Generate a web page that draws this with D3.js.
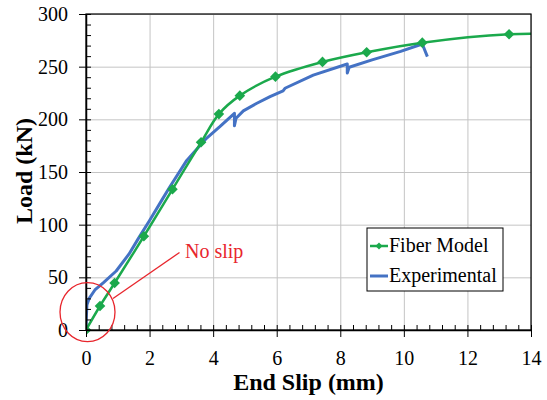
<!DOCTYPE html>
<html>
<head>
<meta charset="utf-8">
<script src="https://cdn.jsdelivr.net/npm/d3@7"></script>
<style>
  body { margin: 0; background: #fff; }
</style>
</head>
<body>
<div id="chart"></div>
<script>
// Fiber model (green, with markers)
const fiberSlip = [0, 0.44, 0.9, 1.82, 2.72, 3.62, 4.18, 4.84, 5.96, 7.44, 8.83, 10.58, 13.31, 14.6];
const fiberLoad = [0, 22.8, 44.6, 89, 133.6, 178.2, 205, 222.5, 240.5, 254.5, 263.7, 272.8, 280.8, 281];

// Experimental (blue)
const expSlip = [0, 0.01, 0.03, 0.1, 0.28, 0.55, 0.95, 1.35, 1.65, 2.0, 2.4, 2.64, 3.17, 3.79, 4.21, 4.67, 4.67, 4.72, 4.95, 5.36, 5.79, 6.2, 6.26, 7.15, 8.22, 8.22, 8.28, 9.0, 9.9, 10.58, 10.74];
const expLoad = [0, 12, 24, 30, 38, 45, 56, 72, 87, 104, 124, 136, 161, 182, 193, 205.7, 194, 201, 208, 215, 221.5, 227, 229.5, 242, 252.5, 244, 249.4, 256.5, 264.5, 271.5, 259.5];

const xTicks = [0, 2, 4, 6, 8, 10, 12, 14];
const yTicks = [0, 50, 100, 150, 200, 250, 300];
const seriesNames = ["Fiber Model", "Experimental"];

const W = 547, H = 400;
const margin = { top: 14, right: 16, bottom: 70, left: 86 };
const width = W - margin.left - margin.right;
const height = H - margin.top - margin.bottom;
const green = "#1ba94c", blue = "#4472c4", red = "#e8262d";
const serif = "Liberation Serif";

const svg = d3.select("#chart").append("svg")
  .attr("width", W).attr("height", H);
const g = svg.append("g")
  .attr("transform", `translate(${margin.left},${margin.top})`);

const x = d3.scaleLinear().domain([0, 14]).range([0, width]);
const y = d3.scaleLinear().domain([0, 300]).range([height, 0]);

svg.append("defs").append("clipPath").attr("id", "plotClip")
  .append("rect").attr("x", 0).attr("y", -8).attr("width", width).attr("height", height + 16);

// gridlines
g.append("g").attr("transform", `translate(0,${height})`)
  .call(d3.axisBottom(x).tickValues(xTicks).tickSize(-height).tickFormat(""))
  .call(a => a.select(".domain").remove())
  .call(a => a.selectAll("line").attr("stroke", "#c4c4c4"));
g.append("g")
  .call(d3.axisLeft(y).tickValues(yTicks).tickSize(-width).tickFormat(""))
  .call(a => a.select(".domain").remove())
  .call(a => a.selectAll("line").attr("stroke", "#c4c4c4"));

// series
const fiberPts = fiberSlip.map((s, i) => [s, fiberLoad[i]]);
const expPts = expSlip.map((s, i) => [s, expLoad[i]]);
const plot = g.append("g").attr("clip-path", "url(#plotClip)");

plot.append("path").datum(expPts)
  .attr("fill", "none").attr("stroke", blue).attr("stroke-width", 3)
  .attr("stroke-linejoin", "round")
  .attr("d", d3.line().x(d => x(d[0])).y(d => y(d[1])));

plot.append("path").datum(fiberPts)
  .attr("fill", "none").attr("stroke", green).attr("stroke-width", 2.5)
  .attr("d", d3.line().curve(d3.curveCatmullRom.alpha(0.5)).x(d => x(d[0])).y(d => y(d[1])));

const diamond = d3.symbol().type(d3.symbolDiamond2).size(72);
plot.selectAll(".mk").data(fiberPts).enter().append("path")
  .attr("transform", d => `translate(${x(d[0])},${y(d[1])})`)
  .attr("d", diamond).attr("fill", green);

// frame
g.append("rect").attr("width", width).attr("height", height)
  .attr("fill", "none").attr("stroke", "#000").attr("stroke-width", 1.2);

// axes: minor inward ticks, major crossing ticks
const xMinor = d3.range(0, 14.01, 0.4);
const yMinor = d3.range(0, 300.1, 10);
g.append("g").attr("transform", `translate(0,${height})`)
  .call(d3.axisBottom(x).tickValues(xMinor).tickSize(-5).tickFormat(""))
  .call(a => a.select(".domain").remove());
g.append("g")
  .call(d3.axisLeft(y).tickValues(yMinor).tickSize(-5).tickFormat(""))
  .call(a => a.select(".domain").remove());

const xAxis = g.append("g").attr("transform", `translate(0,${height})`)
  .call(d3.axisBottom(x).tickValues(xTicks).tickSize(7).tickSizeOuter(0).tickPadding(14))
  .call(a => a.select(".domain").attr("stroke-width", 1.5));
xAxis.selectAll("text").attr("fill", "#000")
  .style("font-family", serif).style("font-size", "20px");

const yAxis = g.append("g")
  .call(d3.axisLeft(y).tickValues(yTicks).tickSize(7).tickSizeOuter(0).tickPadding(11))
  .call(a => a.select(".domain").attr("stroke-width", 1.5));
yAxis.selectAll("text").attr("fill", "#000")
  .style("font-family", serif).style("font-size", "20px");

// axis titles
svg.append("text").attr("x", margin.left + width / 2).attr("y", 390)
  .attr("text-anchor", "middle").style("font-family", serif).style("font-size", "24px")
  .style("font-weight", "bold")
  .text("End Slip (mm)");
svg.append("text").attr("transform", "translate(32,171) rotate(-90)")
  .attr("text-anchor", "middle").style("font-family", serif).style("font-size", "24px")
  .style("font-weight", "bold")
  .text("Load (kN)");

// legend
const lg = svg.append("g").attr("transform", "translate(367,228)");
lg.append("rect").attr("width", 136).attr("height", 63)
  .attr("fill", "#fff").attr("stroke", "#000").attr("stroke-width", 1);
const rows = lg.selectAll(".row").data(seriesNames).enter().append("g")
  .attr("transform", (d, i) => `translate(0,${18 + i * 30})`);
rows.append("line").attr("x1", 3).attr("x2", 21)
  .attr("stroke", (d, i) => i === 0 ? green : blue)
  .attr("stroke-width", (d, i) => i === 0 ? 2.5 : 3);
rows.filter((d, i) => i === 0).append("path")
  .attr("transform", "translate(12,0)")
  .attr("d", d3.symbol().type(d3.symbolDiamond2).size(32)).attr("fill", green);
rows.append("text").attr("x", 22).attr("y", 6)
  .style("font-family", serif).style("font-size", "20px").attr("fill", "#000")
  .text(d => d);

// "No slip" annotation
svg.append("ellipse").attr("cx", margin.left + x(0) + 1.5).attr("cy", margin.top + y(17))
  .attr("rx", 27.5).attr("ry", 29.5)
  .attr("fill", "none").attr("stroke", red).attr("stroke-width", 1.3);
svg.append("line").attr("x1", 113).attr("y1", 298.5).attr("x2", 179.5).attr("y2", 252.5)
  .attr("stroke", red).attr("stroke-width", 1.3);
svg.append("text").attr("x", 185).attr("y", 257.5)
  .style("font-family", serif).style("font-size", "20px").attr("fill", red)
  .text("No slip");
</script>
</body>
</html>
